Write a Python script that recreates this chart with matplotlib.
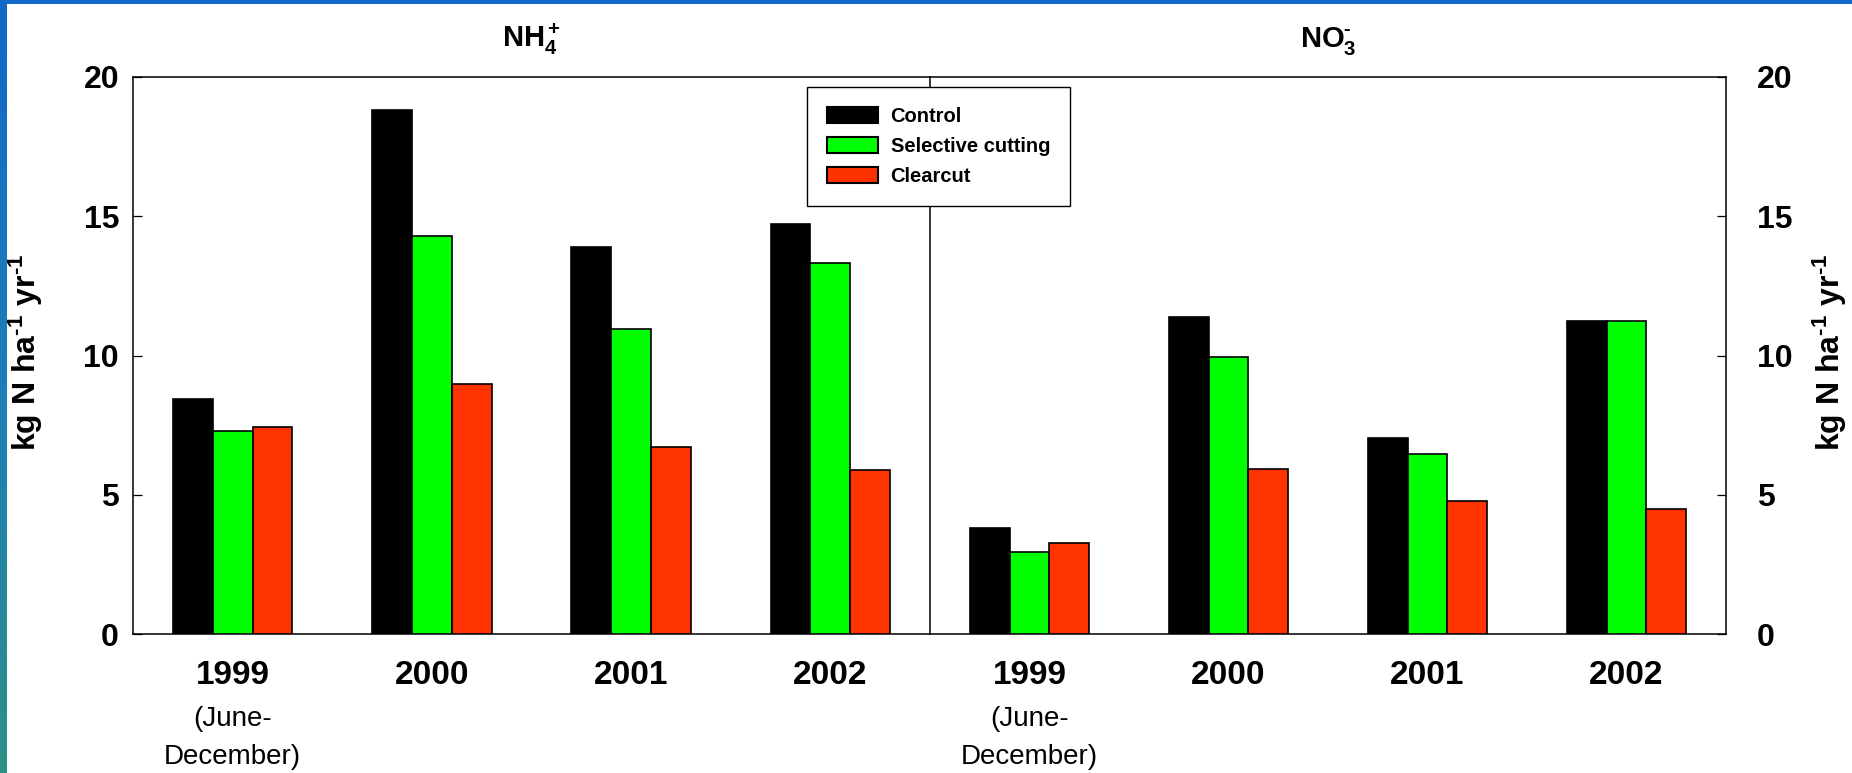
import numpy as np
import matplotlib
matplotlib.use("Agg")
import matplotlib.pyplot as plt
import matplotlib.transforms as mtransforms
from matplotlib.patches import Patch, Rectangle
from matplotlib.colors import LinearSegmentedColormap

# bulk N deposition / leaching per treatment (kg N ha-1 yr-1)
years = ["1999", "2000", "2001", "2002"]
treatments = ["Control", "Selective cutting", "Clearcut"]
colors = ["#000000", "#00FF00", "#FF3300"]

nh4_control = [8.44, 18.80, 13.89, 14.72]
nh4_selective = [7.29, 14.29, 10.94, 13.31]
nh4_clearcut = [7.43, 8.98, 6.73, 5.89]

no3_control = [3.82, 11.38, 7.04, 11.24]
no3_selective = [2.96, 9.95, 6.47, 11.23]
no3_clearcut = [3.25, 5.91, 4.77, 4.50]

first_year_note = "(June-\nDecember)"
hy = "\N{HYPHEN}"
ylab = r"kg N ha$^{" + hy + r"1}$ yr$^{" + hy + r"1}$"

plt.rcParams["font.family"] = ["Liberation Sans", "DejaVu Sans"]
plt.rcParams["font.weight"] = "bold"
plt.rcParams["mathtext.fontset"] = "custom"
plt.rcParams["mathtext.rm"] = "Liberation Sans:bold"
plt.rcParams["mathtext.it"] = "Liberation Sans:bold"
plt.rcParams["mathtext.bf"] = "Liberation Sans:bold"
plt.rcParams["mathtext.default"] = "rm"

W, H = 1852, 773
fig = plt.figure(figsize=(W / 100, H / 100), dpi=100)


def box(x0, y0, x1, y1):
    return [x0 / W, 1 - y1 / H, (x1 - x0) / W, (y1 - y0) / H]


# slide frame: blue bar on top, gradient bar on the left
fig.patches.append(Rectangle((0, 1 - 4 / H), 1, 4 / H, transform=fig.transFigure,
                             facecolor="#1068C8", edgecolor="none", zorder=0))
side = fig.add_axes([0, 0, 7 / W, 1])
cmap = LinearSegmentedColormap.from_list("side", ["#1068C8", "#1F7DB8", "#2A9188"])
side.imshow(np.linspace(0, 1, 256).reshape(-1, 1), aspect="auto", cmap=cmap)
side.axis("off")

ax1 = fig.add_axes(box(133, 77, 930, 634))
ax2 = fig.add_axes(box(930, 77, 1726, 634))

x = np.arange(len(years))
width = 0.2
panels = [
    (ax1, [nh4_control, nh4_selective, nh4_clearcut], r"NH$_4^+$"),
    (ax2, [no3_control, no3_selective, no3_clearcut], r"NO$_3^{" + hy + "}$"),
]

for ax, series, title in panels:
    for i, (vals, c) in enumerate(zip(series, colors)):
        ax.bar(x + (i - 1) * width, vals, width, color=c, edgecolor="black",
               linewidth=1.2, zorder=3)
    ax.set_xlim(-0.5, 3.5)
    ax.set_ylim(0, 20)
    ax.set_yticks([0, 5, 10, 15, 20])
    ax.set_xticks(x)
    ax.set_xticklabels(years, fontsize=24, fontweight="bold")
    ax.tick_params(axis="x", length=0, pad=19)
    ax.tick_params(axis="y", direction="in", length=6.5, width=0.9,
                   labelsize=23)
    for sp in ax.spines.values():
        sp.set_linewidth(1.1)
    ax.text(0.5, 1 + 30 / 557, title, transform=ax.transAxes, ha="center",
            va="baseline", fontsize=21, fontweight="bold")
    trans = mtransforms.blended_transform_factory(ax.transData, ax.transAxes)
    ax.text(x[0], -0.186, first_year_note, transform=trans, ha="center",
            va="center", fontsize=20, fontweight="normal", linespacing=1.6)

ax1.tick_params(axis="y", pad=10)
ax1.spines["right"].set_visible(False)
ax2.yaxis.tick_right()
ax2.tick_params(axis="y", pad=22)

fig.text(26 / W, 1 - 352 / H, ylab, rotation=90, ha="center", va="center",
         fontsize=23, fontweight="bold")
fig.text(1830 / W, 1 - 352 / H, ylab, rotation=90, ha="center", va="center",
         fontsize=23, fontweight="bold")

handles = [Patch(facecolor=c, edgecolor="black", linewidth=1.5) for c in colors]
leg = fig.legend(handles, treatments, loc="upper left",
                 bbox_to_anchor=(807 / W, 1 - 87 / H), borderaxespad=0,
                 fancybox=False, framealpha=1, edgecolor="black",
                 prop={"weight": "bold", "size": 14.5},
                 handlelength=2.55, handleheight=0.85, handletextpad=0.6,
                 borderpad=1.0, labelspacing=0.55)
leg.get_frame().set_linewidth(1.0)

fig.savefig("out.png", dpi=100)
